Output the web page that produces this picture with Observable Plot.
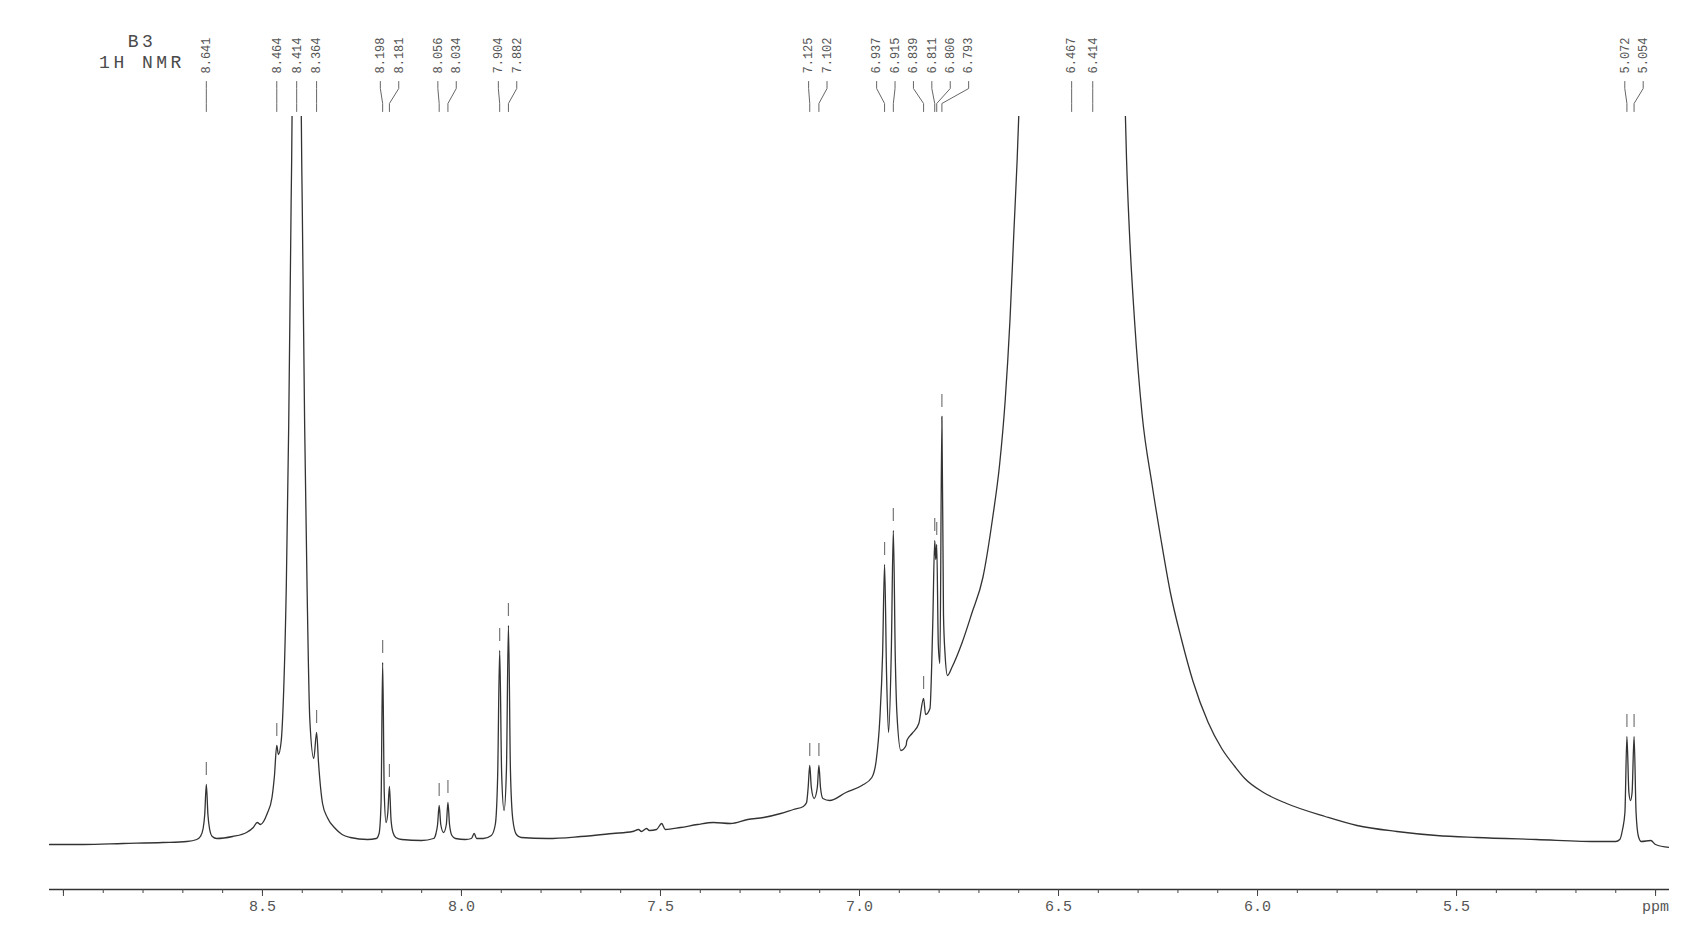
<!DOCTYPE html>
<html><head><meta charset="utf-8">
<script src="https://cdn.jsdelivr.net/npm/d3@7"></script>
<script src="https://cdn.jsdelivr.net/npm/@observablehq/plot@0.6"></script>
<style>
html,body{margin:0;padding:0;background:#fff;}
#wrap{position:relative;width:1695px;height:938px;overflow:hidden;}
#title{position:absolute;left:82px;top:32px;width:120px;text-align:center;font-family:"Liberation Mono",monospace;font-size:18px;line-height:21px;color:#4a4a4a;letter-spacing:3.5px;}
</style></head><body>
<div id="wrap"><div id="title"><div id="t1"></div><div id="t2"></div></div></div>
<script>
// ---- data ----
const sampleName = "B3";
const experiment = "1H NMR";

// spectrum trace: [ppm, intensity]
const spectrum = [
[9.035,0],[8.95,0],[8.85,1],[8.75,2],[8.69,3],[8.665,5],
[8.656,8],[8.649,16],[8.645,30],[8.641,60],[8.637,30],[8.633,16],[8.626,8],
[8.615,6],[8.575,8],[8.54,12],[8.523,17],[8.513,22],[8.505,20],[8.488,31],[8.476,47],[8.470,68],[8.464,99],[8.460,90],[8.453,103],[8.447,150],[8.440,260],[8.434,420],[8.428,640],[8.424,800],[8.414,2500],[8.404,800],[8.400,640],[8.394,420],[8.388,260],[8.381,125],[8.371,86],[8.364,112],[8.359,81],[8.349,41],[8.337,27],[8.317,16],[8.30,10],[8.279,7],[8.236,5],[8.214,6],[8.207,11],
[8.202,42],[8.198,182],[8.194,52],[8.1895,22],[8.185,32],[8.181,58],[8.177,25],[8.172,12],[8.165,7],[8.15,5],[8.10,4],[8.07,6],
[8.064,11],[8.060,20],[8.056,39],[8.052,20],[8.045,12],[8.038,20],[8.034,42],[8.030,20],[8.024,9],[8.015,6],[7.99,5],[7.975,6],[7.968,11],[7.962,6],[7.945,6],[7.925,9],
[7.915,20],[7.909,70],[7.904,194],[7.899,70],[7.893,34],[7.887,75],[7.882,219],[7.877,75],[7.871,25],[7.862,10],[7.85,7],
[7.784,6],[7.70,8],[7.62,11],[7.57,13],[7.555,15],[7.548,13],[7.535,16],[7.528,14],[7.51,15],[7.497,21],[7.488,15],[7.45,17],[7.407,20],[7.367,22],[7.324,21],[7.281,25],[7.241,27],[7.198,31],[7.166,35],[7.141,38],[7.133,42],
[7.129,57],[7.125,79],[7.121,57],[7.114,46],[7.106,57],[7.102,79],[7.098,57],[7.092,46],[7.075,44],[7.034,52],[6.994,59],[6.969,67],[6.958,84],[6.949,125],[6.942,190],[6.937,280],[6.932,170],[6.927,112],[6.920,195],[6.915,314],[6.910,185],[6.906,131],[6.896,94],[6.883,99],[6.881,104],[6.868,111],[6.851,121],[6.839,146],[6.834,130],[6.823,136],[6.816,220],[6.811,304],[6.8085,285],[6.806,300],[6.802,200],[6.798,181],[6.793,428],[6.789,230],[6.785,190],[6.779,169],[6.768,177],
[6.743,201],[6.718,231],[6.690,267],[6.665,328],[6.648,380],[6.634,444],[6.622,524],[6.612,614],[6.604,684],[6.597,760],
[6.467,4000],
[6.334,760],[6.329,684],[6.322,614],[6.309,524],[6.290,430],[6.265,360],[6.243,306],[6.219,252],[6.191,205],[6.162,163],[6.124,122],[6.090,96],[6.057,78],[6.032,66],[5.985,52],[5.927,41],[5.83,28],[5.75,19],[5.65,13],[5.55,9],[5.45,7],[5.30,5],[5.14,3],
[5.100,3],[5.090,5],[5.083,15],[5.077,32],[5.072,108],[5.067,52],[5.063,44],[5.059,52],[5.054,108],[5.049,32],[5.043,8],[5.036,3],[5.012,4],[5.000,0],[4.965,-3]
];

// picked peaks (ppm)
const peakList = [8.641, 8.464, 8.414, 8.364, 8.198, 8.181, 8.056, 8.034, 7.904, 7.882,
  7.125, 7.102, 6.937, 6.915, 6.839, 6.811, 6.806, 6.793, 6.467, 6.414, 5.072, 5.054];

// axis ticks
const majorTicks = [9.0, 8.5, 8.0, 7.5, 7.0, 6.5, 6.0, 5.5, 5.0];
const majorTickLabels = ["", "8.5", "8.0", "7.5", "7.0", "6.5", "6.0", "5.5", "ppm"];
const minorTicks = d3.range(50, 91).map(d => d / 10);

// ---- layout ----
document.getElementById("t1").textContent = sampleName;
document.getElementById("t2").textContent = experiment;

const xDomain = [9.035, 4.965];
const yDomain = [-45, 728];
const pxPerPpm = 398;
const labelGap = 18.4 / pxPerPpm;
const clusterShift = 3.5 / pxPerPpm;

function spreadLabels(vals, gap) {
  let clusters = vals.map(v => ({m: [v]}));
  const center = c => d3.mean(c.m);
  const first = c => center(c) + (c.m.length - 1) * gap / 2;
  const last = c => center(c) - (c.m.length - 1) * gap / 2;
  let merged = true;
  while (merged) {
    merged = false;
    for (let i = 0; i < clusters.length - 1; i++) {
      if (last(clusters[i]) - first(clusters[i + 1]) < gap) {
        clusters[i] = {m: clusters[i].m.concat(clusters[i + 1].m)};
        clusters.splice(i + 1, 1);
        merged = true; break;
      }
    }
  }
  return clusters.flatMap(c => c.m.map((v, j) =>
    c.m.length > 1 ? first(c) - j * gap - clusterShift : v));
}

const sortedPeaks = peakList.slice().sort((a, b) => b - a);
const labelPos = spreadLabels(sortedPeaks, labelGap);
const labels = sortedPeaks.map((p, i) => ({p, lx: labelPos[i], t: p.toFixed(3)}));

const connectors = labels.flatMap((d, i) => [
  {id: i, x: d.lx, y: 763}, {id: i, x: d.lx, y: 756},
  {id: i, x: d.p, y: 741}, {id: i, x: d.p, y: 733}
]);

function topAt(p) {
  let best = spectrum[0];
  for (const s of spectrum) if (Math.abs(s[0] - p) < Math.abs(best[0] - p)) best = s;
  return best[1];
}
const markers = sortedPeaks.map(p => ({ppm: p, top: topAt(p)}));

const mono = "Liberation Mono, monospace";

const chart = Plot.plot({
  width: 1695, height: 938,
  marginTop: 116, marginBottom: 49, marginLeft: 49, marginRight: 26,
  style: {background: "transparent", overflow: "visible"},
  x: {domain: xDomain},
  y: {domain: yDomain, axis: null},
  marks: [
    Plot.ruleY([yDomain[0]], {stroke: "#333", strokeWidth: 1.3}),
    Plot.axisX({ticks: minorTicks, tickSize: 4, tickFormat: () => "", anchor: "bottom", stroke: "#444", label: null}),
    Plot.axisX({ticks: majorTicks, tickSize: 7, tickPadding: 4, anchor: "bottom", label: null,
      tickFormat: d => majorTickLabels[majorTicks.findIndex(t => Math.abs(t - d) < 1e-9)] ?? "",
      fontSize: 15, fontFamily: mono, fill: "#555", stroke: "#444"}),
    Plot.line(spectrum, {x: d => d[0], y: d => d[1], curve: "monotone-x", stroke: "#333", strokeWidth: 1.3, clip: true}),
    Plot.ruleX(markers, {x: "ppm", y1: d => d.top + 9, y2: d => d.top + 22, stroke: "#777", strokeWidth: 1.2, clip: true}),
    Plot.line(connectors, {x: "x", y: "y", z: "id", stroke: "#666", strokeWidth: 1}),
    Plot.text(labels, {x: "lx", y: 771, text: "t", rotate: -90, textAnchor: "start", lineAnchor: "middle",
      fontSize: 12, fontFamily: mono, fill: "#555"})
  ]
});
document.getElementById("wrap").appendChild(chart);
</script>
</body></html>
